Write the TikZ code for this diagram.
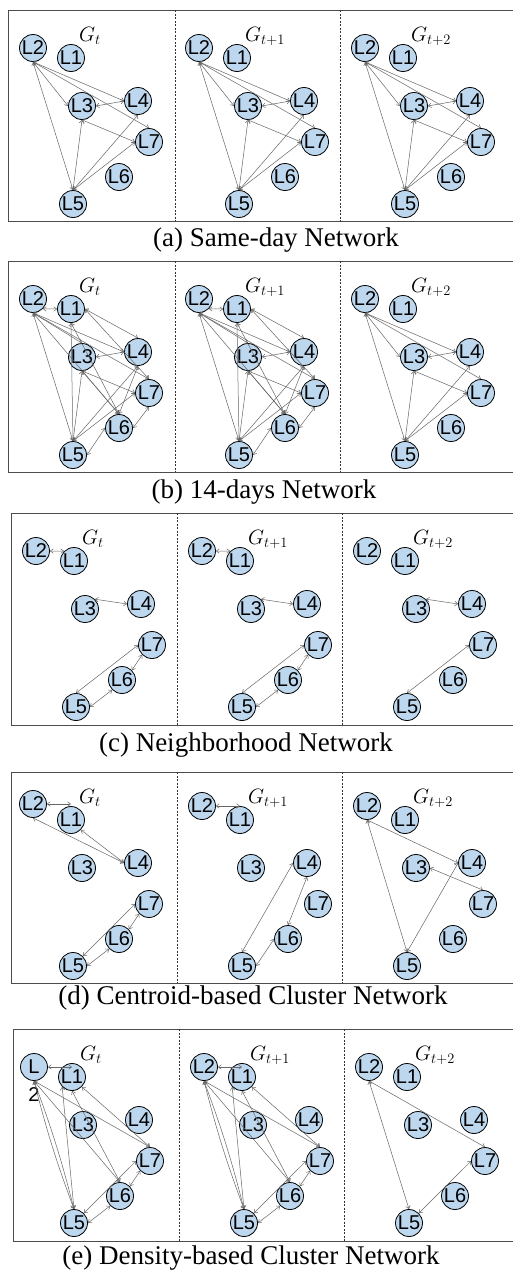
\documentclass[tikz,border=0pt]{standalone}
\usepackage{fontspec}
\usepackage{tikz}
\usetikzlibrary{arrows.meta,calc}
\newfontfamily\locfont{Liberation Sans}
\newfontfamily\capfont{Liberation Serif}
\definecolor{LocBlue}{HTML}{BDD7EE}
\tikzset{
  loc/.style={circle,draw=black,line width=0.8pt,fill=LocBlue,minimum size=27pt,inner sep=0pt,font=\locfont\fontsize{20}{20}\selectfont},
  glabel/.style={anchor=base west,inner sep=0pt,font=\fontsize{21}{21}\selectfont},
  link/.style={{Straight Barb[length=3pt,width=4.5pt]}-{Straight Barb[length=3pt,width=4.5pt]},draw=black!60,line width=0.5pt},
  frame/.style={draw=black!70,line width=1pt},
  divider/.style={draw=black!80,line width=0.6pt,dash pattern=on 2pt off 1.5pt},
  caption/.style={font=\capfont\fontsize{27}{27}\selectfont,inner sep=0pt}
}
% seven locations of one snapshot: [L2 text]{prefix}{x}{y}{subscript}{L2 dy}
\newcommand{\locnodes}[6][L2]{%
  \begin{scope}[shift={(#3,#4)}]
    \node[glabel] (#2G) at (71,31) {$G_{#5}$};
    \node[loc] (#2L2) at (25,{38+(#6)}) {#1};
    \node[loc] (#2L1) at (63,48) {L1};
    \node[loc] (#2L3) at (74,96) {L3};
    \node[loc] (#2L4) at (130,91) {L4};
    \node[loc] (#2L7) at (141,132) {L7};
    \node[loc] (#2L6) at (111,167) {L6};
    \node[loc] (#2L5) at (65,194) {L5};
  \end{scope}}
% same-day links
\newcommand{\samedaylinks}[1]{%
  \draw[link] (#1L2.south) -- (#1L3.west);
  \draw[link] (#1L2.south) -- (#1L4.west);
  \draw[link] (#1L2.south) -- (#1L7.north);
  \draw[link] (#1L2.south) -- (#1L5.north);
  \draw[link] (#1L3.east) -- (#1L4.west);
  \draw[link] (#1L3.south) -- (#1L7.west);
  \draw[link] (#1L3.south) -- (#1L5.north);
  \draw[link] (#1L5.north) -- (#1L4.south);
  \draw[link] (#1L5.north) -- (#1L7.west);}
% 14-days links
\newcommand{\fortnightlinks}[1]{%
  \draw[link] (#1L2.south east) -- (#1L1.west);
  \draw[link] (#1L2.south) -- (#1L3.north);
  \draw[link] (#1L2.south) -- (#1L4.west);
  \draw[link] (#1L2.south) -- (#1L7.north);
  \draw[link] (#1L2.south) -- (#1L6.north);
  \draw[link] (#1L2.south) -- (#1L5.north);
  \draw[link] (#1L1.south) -- (#1L5.north);
  \draw[link] (#1L1.south) -- (#1L6.north);
  \draw[link] (#1L1.east) -- (#1L4.north);
  \draw[link] (#1L1.east) -- (#1L7.north);
  \draw[link] (#1L3.east) -- (#1L4.west);
  \draw[link] (#1L3.south) -- (#1L7.west);
  \draw[link] (#1L3.south) -- (#1L6.north);
  \draw[link] (#1L3.south) -- (#1L5.north);
  \draw[link] (#1L4.south) -- (#1L5.north);
  \draw[link] (#1L4.south) -- (#1L6.north);
  \draw[link] (#1L7.west) -- (#1L5.north);
  \draw[link] (#1L7.south) -- (#1L6.east);
  \draw[link] (#1L6.west) -- (#1L5.east);}
% density-based links
\newcommand{\densitylinks}[1]{%
  \draw[link] (#1L2.east) -- (#1L2.east -| #1L1.north);
  \draw[link] (#1L2.south) to[bend left=3] (#1L5.north);
  \draw[link] (#1L2.south) to[bend right=3] (#1L5.north);
  \draw[link] (#1L2.south) -- (#1L6.north);
  \draw[link] (#1L2.south) -- (#1L7.north);
  \draw[link] (#1L1.south west) -- (#1L5.north);
  \draw[link] (#1L1.south) -- (#1L6.north);
  \draw[link] (#1L1.south east) -- (#1L7.north);
  \draw[link] (#1L5.east) -- (#1L6.south west);
  \draw[link] (#1L5.north east) -- (#1L7.west);
  \draw[link] (#1L6.north east) -- (#1L7.south west);}

\begin{document}
\begin{tikzpicture}[x=1pt,y=-1pt]
\useasboundingbox[fill=white] (0,0) rectangle (512,1280);

% (a) same-day
\draw[frame] (8,10) rectangle (545,221);
\draw[divider] (175,10) -- (175,221);
\draw[divider] (340,10) -- (340,221);
\locnodes{a1}{8}{10}{t}{0}
\locnodes{a2}{174}{10}{t+1}{0}
\locnodes{a3}{340}{10}{t+2}{0}
\samedaylinks{a1}
\samedaylinks{a2}
\samedaylinks{a3}
\node[caption] (capa) at (276,240) {(a) Same-day Network};

% (b) 14 days
\draw[frame] (8,261) rectangle (545,472);
\draw[divider] (175,261) -- (175,472);
\draw[divider] (340,261) -- (340,472);
\locnodes{b1}{8}{261}{t}{0}
\locnodes{b2}{174}{261}{t+1}{0}
\locnodes{b3}{340}{261}{t+2}{0}
\fortnightlinks{b1}
\fortnightlinks{b2}
\samedaylinks{b3}
\node[caption] (capb) at (264,492) {(b) 14-days Network};

% (c) neighborhood
\draw[frame] (11,513) rectangle (545,725);
\draw[divider] (177,513) -- (177,725);
\draw[divider] (342,513) -- (342,725);
\locnodes{c1}{11}{513}{t}{0}
\locnodes{c2}{177}{513}{t+1}{0}
\locnodes{c3}{342}{513}{t+2}{0}
\foreach \p in {c1,c2}{
  \draw[link] (\p L2.east) -- (\p L1.north west);
  \draw[link] (\p L6.north east) -- (\p L7.south west);
  \draw[link] (\p L5.east) -- (\p L6.south west);
}
\foreach \p in {c1,c2,c3}{
  \draw[link] (\p L3.north east) -- (\p L4.west);
  \draw[link] (\p L5.north) -- (\p L7.west);
}
\node[caption] (capc) at (246,745) {(c) Neighborhood Network};

% (d) centroid-based cluster
\draw[frame] (11,772) rectangle (545,983);
\draw[divider] (177,772) -- (177,983);
\draw[divider] (342,772) -- (342,983);
\locnodes{d1}{8}{772}{t}{-6}
\locnodes{d2}{177}{772}{t+1}{-4}
\locnodes{d3}{342}{772}{t+2}{-4}
\draw[link] (d1L2.east) -- (d1L2.east -| d1L1.north);
\draw[link] (d1L2.south) -- (d1L4.west);
\draw[link] (d1L1.south east) -- (d1L4.west);
\draw[link] (d1L5.north east) -- (d1L7.west);
\draw[link] (d1L5.east) -- (d1L6.south west);
\draw[link] (d1L6.north east) -- (d1L7.south west);
\draw[link] (d2L2.east) -- (d2L2.east -| d2L1.north);
\draw[link] (d2L4.west) -- (d2L5.north);
\draw[link] (d2L4.south) -- (d2L6.north);
\draw[link] (d2L6.west) -- (d2L5.east);
\draw[link] (d3L2.south) -- (d3L4.west);
\draw[link] (d3L2.south) -- (d3L5.north);
\draw[link] (d3L3.east) -- (d3L7.north);
\draw[link] (d3L5.north) -- (d3L4.west);
\node[caption] (capd) at (253,998) {(d) Centroid-based Cluster Network};

% (e) density-based cluster
\draw[frame] (13,1029) rectangle (545,1241);
\draw[divider] (179,1029) -- (179,1241);
\draw[divider] (344,1029) -- (344,1241);
\locnodes[L]{e1}{9}{1029}{t}{0}
\node[loc,draw=none,fill=none] (e1two) at ($(e1L2)+(0,28)$) {2};
\locnodes{e2}{179}{1029}{t+1}{0}
\locnodes{e3}{344}{1029}{t+2}{0}
\densitylinks{e1}
\densitylinks{e2}
\draw[link] (e3L2.south) -- (e3L7.north);
\draw[link] (e3L2.south) -- (e3L5.north);
\draw[link] (e3L5.north east) -- (e3L7.west);
\node[caption] (cape) at (251,1258) {(e) Density-based Cluster Network};
\end{tikzpicture}
\end{document}
